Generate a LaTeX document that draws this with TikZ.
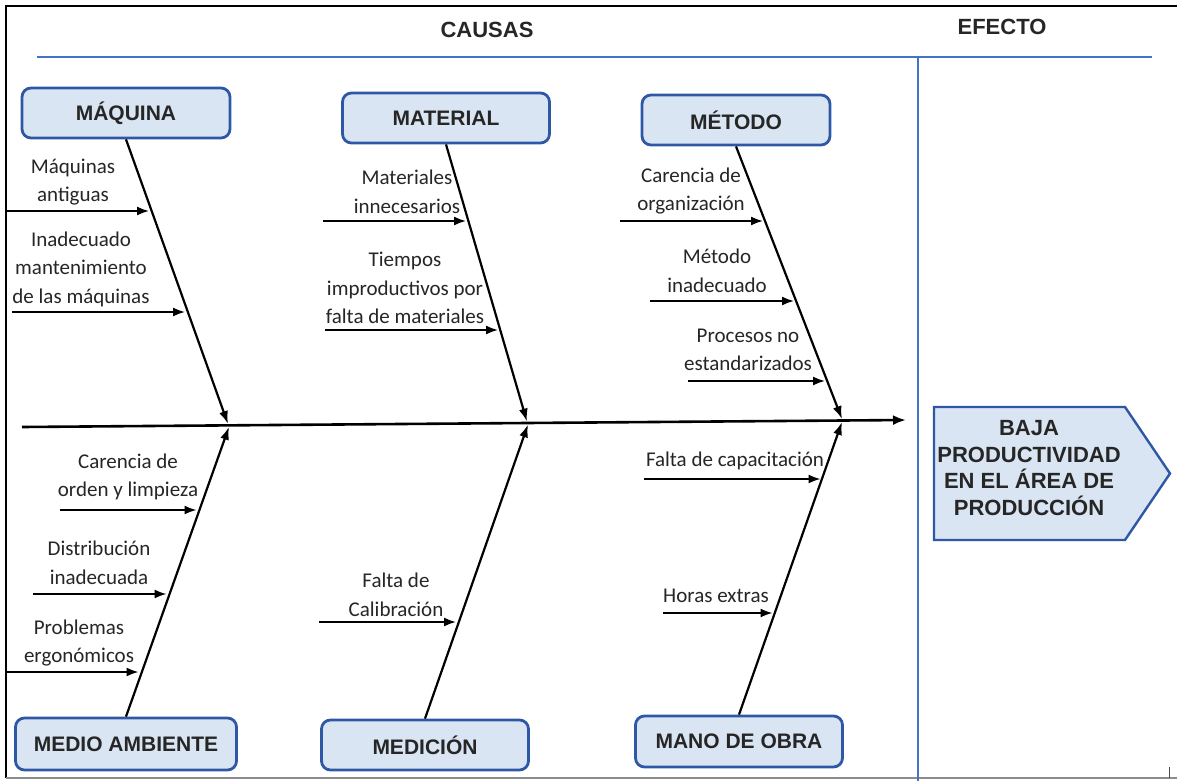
\documentclass[tikz,border=0pt]{standalone}
\usepackage{fontspec}
\setmainfont{Carlito}
\newfontfamily\hdfont{Liberation Sans}
\usetikzlibrary{arrows.meta}
\definecolor{boxfill}{HTML}{DAE5F3}
\definecolor{boxline}{HTML}{2E58A6}
\definecolor{rulecol}{HTML}{4472C4}
\definecolor{txt}{HTML}{262626}
\tikzset{
  catbox/.style={draw=boxline, line width=2.8pt, fill=boxfill, rounded corners=9pt,
    minimum height=50pt, inner sep=0pt, text=txt, font=\hdfont\bfseries\fontsize{21}{25}\selectfont},
  titletxt/.style={inner sep=0pt, text=txt, font=\hdfont\bfseries\fontsize{22}{26}\selectfont},
  efftxt/.style={align=center, inner sep=0pt, text=txt, font=\hdfont\bfseries\fontsize{22}{26.5}\selectfont},
  lbl/.style={align=center, inner sep=0pt, text=txt, font=\fontsize{21}{28.5}\selectfont},
  bone/.style={line width=2.2pt, -{Latex[length=13pt,width=9pt]}},
  subarr/.style={line width=1.8pt, -{Latex[length=12pt,width=9pt]}},
  spine/.style={line width=2.6pt, -{Latex[length=13pt,width=10pt]}},
  bluerule/.style={draw=rulecol, line width=2.8pt},
}
\begin{document}
\begin{tikzpicture}[x=1pt,y=-1pt]
\fill[white] (0,0) rectangle (1177,781);
\useasboundingbox (0,0) rectangle (1177,781);
% frame
\draw[line width=2pt] (6,778) -- (6,6) -- (1177,6);
\draw[line width=1.5pt, black!45] (6,778) -- (1177,778);
\draw[line width=1pt, black!70] (1169,767) -- (1169,778);
% blue rules
\draw[bluerule] (37,57) -- (1152,57);
\draw[bluerule] (918,57) -- (918,781);
% titles
\node[titletxt] (causas) at (487,30) {CAUSAS};
\node[titletxt] (efecto) at (1002,27) {EFECTO};
% category boxes
\node[catbox, minimum width=208pt] (maq) at (126,113) {MÁQUINA};
\node[catbox, minimum width=207pt] (mat) at (446,118) {MATERIAL};
\node[catbox, minimum width=188pt, minimum height=50pt] (met) at (736,120) {MÉTODO};
\node[catbox, minimum width=221pt, minimum height=52pt] (mamb) at (126,744) {MEDIO AMBIENTE};
\node[catbox, minimum width=207pt] (mdc) at (425,745) {MEDICIÓN};
\node[catbox, minimum width=207pt, minimum height=51pt] (mob) at (739,741.5) {MANO DE OBRA};
% spine
\coordinate (sp0) at (22,427);
\coordinate (sp1) at (906,420);
\draw[spine] (sp0) -- (sp1);
% junctions
\coordinate (j1t) at (228,424);
\coordinate (j1b) at (229,426.8);
\coordinate (j2t) at (527,421.6);
\coordinate (j2b) at (528,424.4);
\coordinate (j3t) at (842,419.1);
\coordinate (j3b) at (842,421.9);
% bones
\draw[bone] (maq.south) -- (j1t);
\draw[bone] (mat.south) -- (j2t);
\draw[bone] (met.south) -- (j3t);
\draw[bone] (mamb.north) -- (j1b);
\draw[bone] (mdc.north) -- (j2b);
\draw[bone] (mob.north) -- (j3b);
% effect
\draw[draw=boxline, line width=2.4pt, fill=boxfill] (934,407) -- (1125,407) -- (1170,473.5) -- (1125,540) -- (934,540) -- cycle;
\node[efftxt] (eff) at (1029,468) {BAJA\\PRODUCTIVIDAD\\EN EL ÁREA DE\\PRODUCCIÓN};
% MAQUINA causes
\node[lbl] (l11) at (73,182) {Máquinas\\antiguas};
\coordinate (s11) at (6,211); \coordinate (e11) at (149,211);
\draw[subarr] (s11) -- (e11);
\node[lbl] (l12) at (81,269) {Inadecuado\\mantenimiento\\de las máquinas};
\coordinate (s12) at (12,312); \coordinate (e12) at (185,312);
\draw[subarr] (s12) -- (e12);
% MATERIAL causes
\node[lbl] (l21) at (407,192) {Materiales\\innecesarios};
\coordinate (s21) at (323,221); \coordinate (e21) at (466,221);
\draw[subarr] (s21) -- (e21);
\node[lbl] (l22) at (405,288) {Tiempos\\improductivos por\\falta de materiales};
\coordinate (s22) at (325,330); \coordinate (e22) at (498,330);
\draw[subarr] (s22) -- (e22);
% METODO causes
\node[lbl] (l31) at (691,191) {Carencia de\\organización};
\coordinate (s31) at (620,221); \coordinate (e31) at (763,221);
\draw[subarr] (s31) -- (e31);
\node[lbl] (l32) at (717,271) {Método\\inadecuado};
\coordinate (s32) at (650,301); \coordinate (e32) at (794,301);
\draw[subarr] (s32) -- (e32);
\node[lbl] (l33) at (748,350) {Procesos no\\estandarizados};
\coordinate (s33) at (688,381); \coordinate (e33) at (825,381);
\draw[subarr] (s33) -- (e33);
% MEDIO AMBIENTE causes
\node[lbl] (l41) at (128,477) {Carencia de\\orden y limpieza};
\coordinate (s41) at (60,510); \coordinate (e41) at (196.5,510);
\draw[subarr] (s41) -- (e41);
\node[lbl] (l42) at (99,563) {Distribución\\inadecuada};
\coordinate (s42) at (33,594); \coordinate (e42) at (166.5,594);
\draw[subarr] (s42) -- (e42);
\node[lbl] (l43) at (79,643) {Problemas\\ergonómicos};
\coordinate (s43) at (6,672); \coordinate (e43) at (138.5,672);
\draw[subarr] (s43) -- (e43);
% MEDICION causes
\node[lbl] (l51) at (396,595) {Falta de\\Calibración};
\coordinate (s51) at (319,622); \coordinate (e51) at (456,622);
\draw[subarr] (s51) -- (e51);
% MANO DE OBRA causes
\node[lbl] (l61) at (735,461) {Falta de capacitación};
\coordinate (s61) at (644,479); \coordinate (e61) at (820.5,479);
\draw[subarr] (s61) -- (e61);
\node[lbl] (l62) at (716,596) {Horas extras};
\coordinate (s62) at (663,613); \coordinate (e62) at (772.5,613);
\draw[subarr] (s62) -- (e62);
\end{tikzpicture}
\end{document}
